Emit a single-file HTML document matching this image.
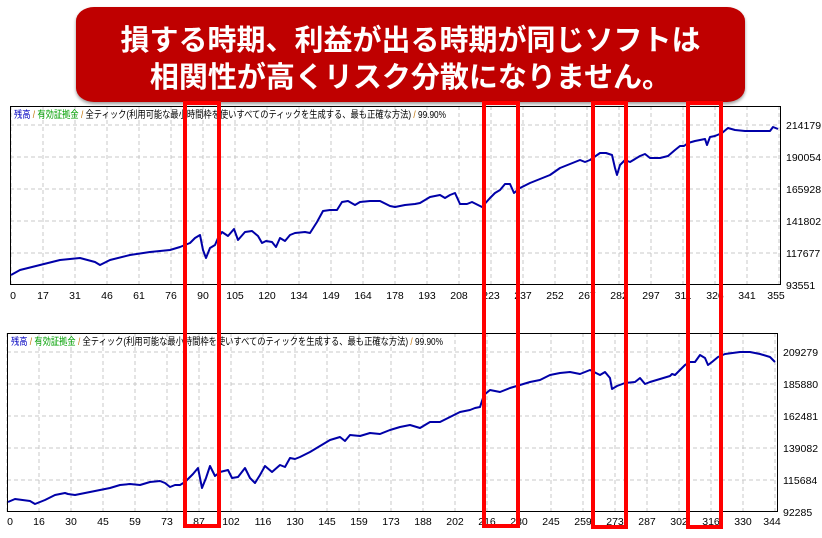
<!DOCTYPE html>
<html><head><meta charset="utf-8"><style>
body{margin:0;width:822px;height:538px;background:#fff;position:relative;overflow:hidden;font-family:"Liberation Sans","Noto Sans CJK JP",sans-serif}
.title{position:absolute;left:76px;top:7px;width:669px;height:95px;background:#bf0000;border-radius:18px/14px;box-shadow:0 2px 3px rgba(0,0,0,.4);color:#fff;font-weight:bold;font-size:28px;text-align:center;font-family:"Noto Sans CJK JP",sans-serif}
.title div{position:absolute;left:0;right:0;white-space:nowrap;letter-spacing:0px}
</style></head><body>
<div class="title"><div style="top:10px;font-size:29px">損する時期、利益が出る時期が同じソフトは</div><div style="top:47px;font-size:29px">相関性が高くリスク分散になりません。</div></div>
<svg width="822" height="538" style="position:absolute;left:0;top:0" font-family="Liberation Sans, Noto Sans CJK JP, sans-serif">
<g stroke="#c8c8c8" stroke-dasharray="4,3" stroke-width="1">
<path d="M11 106V285M43 106V285M75 106V285M107 106V285M139 106V285M171 106V285M203 106V285M235 106V285M267 106V285M299 106V285M331 106V285M363 106V285M395 106V285M427 106V285M459 106V285M491 106V285M523 106V285M555 106V285M587 106V285M619 106V285M651 106V285M683 106V285M715 106V285M747 106V285M779 106V285"/>
<path d="M10 125H781M10 157H781M10 189H781M10 221H781M10 253H781"/>
<path d="M7 333V512M39 333V512M71 333V512M103 333V512M135 333V512M167 333V512M199 333V512M231 333V512M263 333V512M295 333V512M327 333V512M359 333V512M391 333V512M423 333V512M455 333V512M487 333V512M519 333V512M551 333V512M583 333V512M615 333V512M647 333V512M679 333V512M711 333V512M743 333V512M775 333V512"/>
<path d="M7 352H778M7 384H778M7 416H778M7 448H778M7 480H778"/>
</g>
<rect x="10.5" y="106.5" width="770" height="178" fill="none" stroke="#000"/>
<rect x="7.5" y="333.5" width="770" height="178" fill="none" stroke="#000"/>
<g font-size="10">
<text x="14" y="118" textLength="432" lengthAdjust="spacingAndGlyphs"><tspan fill="#0000c0">残高</tspan><tspan fill="#c07000"> / </tspan><tspan fill="#00a000">有効証拠金</tspan><tspan fill="#c07000"> / </tspan>全ティック(利用可能な最小時間枠を使いすべてのティックを生成する、最も正確な方法)<tspan fill="#c07000"> / </tspan>99.90%</text>
<text x="11" y="345" textLength="432" lengthAdjust="spacingAndGlyphs"><tspan fill="#0000c0">残高</tspan><tspan fill="#c07000"> / </tspan><tspan fill="#00a000">有効証拠金</tspan><tspan fill="#c07000"> / </tspan>全ティック(利用可能な最小時間枠を使いすべてのティックを生成する、最も正確な方法)<tspan fill="#c07000"> / </tspan>99.90%</text>
</g>
<g font-size="10.5" fill="#000">
<text x="786" y="129">214179</text><text x="786" y="161">190054</text><text x="786" y="193">165928</text><text x="786" y="225">141802</text><text x="786" y="257">117677</text><text x="786" y="289">93551</text>
<text x="783" y="356">209279</text><text x="783" y="388">185880</text><text x="783" y="420">162481</text><text x="783" y="452">139082</text><text x="783" y="484">115684</text><text x="783" y="516">92285</text>
</g>
<g font-size="10.5" text-anchor="middle">
<text x="13" y="299">0</text><text x="43" y="299">17</text><text x="75" y="299">31</text><text x="107" y="299">46</text><text x="139" y="299">61</text><text x="171" y="299">76</text><text x="203" y="299">90</text><text x="235" y="299">105</text><text x="267" y="299">120</text><text x="299" y="299">134</text><text x="331" y="299">149</text><text x="363" y="299">164</text><text x="395" y="299">178</text><text x="427" y="299">193</text><text x="459" y="299">208</text><text x="491" y="299">223</text><text x="523" y="299">237</text><text x="555" y="299">252</text><text x="587" y="299">267</text><text x="619" y="299">282</text><text x="651" y="299">297</text><text x="683" y="299">311</text><text x="715" y="299">326</text><text x="747" y="299">341</text><text x="776" y="299">355</text>
<text x="10" y="525">0</text><text x="39" y="525">16</text><text x="71" y="525">30</text><text x="103" y="525">45</text><text x="135" y="525">59</text><text x="167" y="525">73</text><text x="199" y="525">87</text><text x="231" y="525">102</text><text x="263" y="525">116</text><text x="295" y="525">130</text><text x="327" y="525">145</text><text x="359" y="525">159</text><text x="391" y="525">173</text><text x="423" y="525">188</text><text x="455" y="525">202</text><text x="487" y="525">216</text><text x="519" y="525">230</text><text x="551" y="525">245</text><text x="583" y="525">259</text><text x="615" y="525">273</text><text x="647" y="525">287</text><text x="679" y="525">302</text><text x="711" y="525">316</text><text x="743" y="525">330</text><text x="772" y="525">344</text>
</g>
<g fill="none" stroke="#0000a8" stroke-width="2" stroke-linejoin="round">
<polyline points="11,275 20,270 40,265 60,260 80,258 95,262 100,265 110,260 130,255 150,252 170,250 180,247 185,245 190,243 195,238 200,235 203,250 206,258 210,248 215,245 218,238 222,232 228,236 234,229 238,240 245,232 252,231 258,236 262,243 266,241 272,242 276,247 280,238 285,241 290,235 295,233 305,232 310,233 317,222 323,211 330,210 337,210 342,202 348,201 355,205 360,202 370,201 380,201 390,206 395,207 405,205 415,204 420,203 430,197 440,195 445,198 450,195 455,193 460,204 467,204 472,202 478,205 482,207 490,198 495,193 500,190 505,184 510,184 514,193 520,188 530,183 540,179 550,175 560,168 570,164 580,160 585,162 590,160 600,153 606,153 612,155 615,168 617,175 620,165 625,160 630,162 640,156 645,154 650,158 660,158 668,156 675,150 680,146 684,146 688,143 695,141 700,140 705,139 707,145 710,137 715,136 722,133 728,128 735,130 745,131 760,131 770,131 773,127 778,129"/>
<polyline points="8,502 15,499 30,501 35,504 45,500 55,495 65,493 68,494 75,495 85,493 100,490 110,488 120,485 130,484 140,485 150,482 160,481 165,483 170,487 175,485 180,485 185,482 193,474 198,468 202,488 206,478 210,466 215,476 220,472 228,470 232,478 238,477 245,468 250,478 255,483 260,475 265,466 272,472 280,465 285,467 290,458 295,459 300,457 310,452 320,446 330,440 340,437 345,441 350,435 360,436 370,433 380,434 390,430 400,427 410,425 420,428 430,422 440,422 450,417 460,412 470,410 475,408 480,407 484,395 490,390 500,392 510,388 520,385 530,382 540,380 550,375 560,373 570,372 580,374 590,370 600,375 605,372 610,378 612,389 617,386 625,383 635,382 640,378 645,384 650,382 660,379 670,376 672,374 675,375 685,365 690,362 695,362 700,355 705,358 708,365 712,362 718,357 725,354 740,352 750,352 760,354 770,357 775,362"/>
</g>
<g fill="none" stroke="#ff0000" stroke-width="4">
<rect x="185" y="103" width="34" height="423"/>
<rect x="484" y="103" width="34" height="423"/>
<rect x="593" y="103" width="33" height="424"/>
<rect x="688" y="103" width="33" height="424"/>
</g>
</svg>
</body></html>
